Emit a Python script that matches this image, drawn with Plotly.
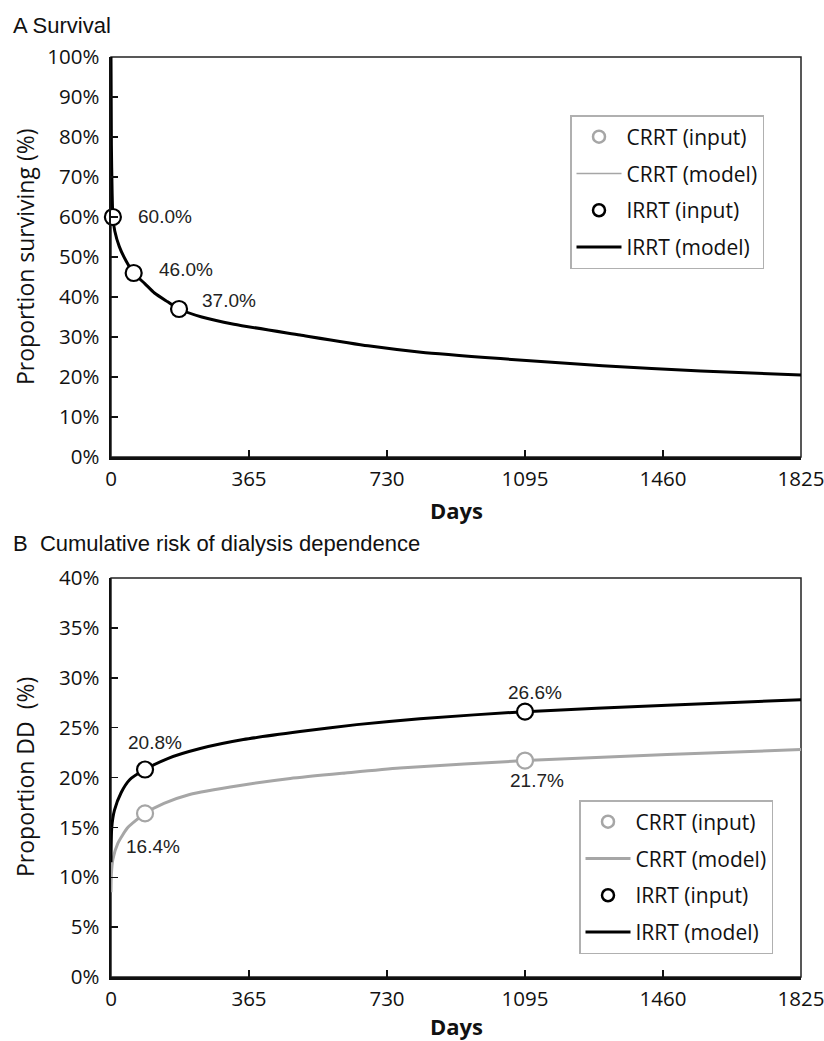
import plotly.graph_objects as go

# ---------------- data ----------------
x_ticks = [0, 365, 730, 1095, 1460, 1825]
surv_y_ticks = [0, 10, 20, 30, 40, 50, 60, 70, 80, 90, 100]
dd_y_ticks = [0, 5, 10, 15, 20, 25, 30, 35, 40]

# Panel A: survival
surv_input_days = [5, 60, 180]
surv_input_pct = [60.0, 46.0, 37.0]
surv_input_labels = ["60.0%", "46.0%", "37.0%"]
surv_model_days = [0, 1, 3, 5, 10, 22, 40, 60, 90, 115, 150, 180, 240, 325, 500, 680, 820, 1030, 1300, 1560, 1825]
surv_model_pct = [100, 78, 66, 60, 56.5, 52.6, 49, 46, 43.3, 41, 38.8, 37, 35, 33.2, 30.5, 27.8, 26.2, 24.6, 22.8, 21.5, 20.5]

# Panel B: cumulative risk of dialysis dependence
dd_input_days = [90, 1095]
dd_irrt_input_pct = [20.8, 26.6]
dd_crrt_input_pct = [16.4, 21.7]
dd_irrt_labels = ["20.8%", "26.6%"]
dd_crrt_labels = ["16.4%", "21.7%"]
dd_irrt_model_days = [0, 2, 9, 27, 50, 90, 150, 236, 350, 500, 650, 817, 1095, 1471, 1825]
dd_irrt_model_pct = [11.5, 15.0, 16.7, 18.5, 19.8, 20.8, 21.9, 22.9, 23.8, 24.6, 25.3, 25.9, 26.6, 27.25, 27.8]
dd_crrt_model_days = [0, 1, 5, 18, 45, 90, 140, 208, 341, 474, 620, 764, 1095, 1471, 1825]
dd_crrt_model_pct = [8.5, 10.3, 11.8, 13.4, 15.0, 16.4, 17.4, 18.3, 19.2, 19.9, 20.45, 20.95, 21.7, 22.3, 22.8]

# ---------------- styles ----------------
GRAY = "#a6a6a6"
BLACK = "#000000"
W, H = 824, 1041
TICK_FONT = dict(family="Open Sans", size=20.5, color="#111111")
LEG_FONT = dict(family="Open Sans", size=21, color="#111111")
LBL_FONT = dict(family="Liberation Sans", size=19, color="#222222")


def px_x(p):
    return p / W


def px_y(p):
    return 1 - p / H


fig = go.Figure()

# ---- Panel A traces ----
fig.add_trace(go.Scatter(x=surv_input_days, y=surv_input_pct, mode="markers", name="CRRT (input)",
                         marker=dict(symbol="circle-open", size=12, color=GRAY, line=dict(width=2.5)),
                         xaxis="x", yaxis="y", legend="legend", legendgroup="a1", legendrank=1, cliponaxis=False))
fig.add_trace(go.Scatter(x=surv_model_days, y=surv_model_pct, mode="lines", name="CRRT (model)",
                         line=dict(color=GRAY, width=1.5, shape="spline", smoothing=0.6),
                         xaxis="x", yaxis="y", legend="legend", legendgroup="a2", legendrank=2))
fig.add_trace(go.Scatter(x=surv_input_days, y=surv_input_pct, mode="markers", name="IRRT (input)",
                         marker=dict(symbol="circle", size=12, color="white", line=dict(width=2.5, color=BLACK)),
                         xaxis="x", yaxis="y", legend="legend", legendgroup="a3", legendrank=3, cliponaxis=False))
fig.add_trace(go.Scatter(x=surv_model_days, y=surv_model_pct, mode="lines", name="IRRT (model)",
                         line=dict(color=BLACK, width=3, shape="spline", smoothing=0.6),
                         xaxis="x", yaxis="y", legend="legend", legendgroup="a4", legendrank=4))
fig.add_trace(go.Scatter(x=surv_input_days, y=surv_input_pct, mode="markers", name="IRRT (input)",
                         marker=dict(symbol="circle", size=16, color="white", line=dict(width=2.2, color=BLACK)),
                         xaxis="x", yaxis="y", legend="legend", legendgroup="a3", showlegend=False,
                         cliponaxis=False))

# ---- Panel B traces ----
fig.add_trace(go.Scatter(x=dd_input_days, y=dd_crrt_input_pct, mode="markers", name="CRRT (input)",
                         marker=dict(symbol="circle", size=12, color="white", line=dict(width=2.5, color=GRAY)),
                         xaxis="x2", yaxis="y2", legend="legend2", legendgroup="b1", legendrank=1,
                         cliponaxis=False))
fig.add_trace(go.Scatter(x=dd_input_days, y=dd_irrt_input_pct, mode="markers", name="IRRT (input)",
                         marker=dict(symbol="circle", size=12, color="white", line=dict(width=2.5, color=BLACK)),
                         xaxis="x2", yaxis="y2", legend="legend2", legendgroup="b3", legendrank=3,
                         cliponaxis=False))
fig.add_trace(go.Scatter(x=dd_crrt_model_days, y=dd_crrt_model_pct, mode="lines", name="CRRT (model)",
                         line=dict(color=GRAY, width=3, shape="spline", smoothing=0.6),
                         xaxis="x2", yaxis="y2", legend="legend2", legendgroup="b2", legendrank=2))
fig.add_trace(go.Scatter(x=dd_input_days, y=dd_crrt_input_pct, mode="markers", name="CRRT (input)",
                         marker=dict(symbol="circle", size=16, color="white", line=dict(width=2.2, color=GRAY)),
                         xaxis="x2", yaxis="y2", legend="legend2", legendgroup="b1", showlegend=False,
                         cliponaxis=False))
fig.add_trace(go.Scatter(x=dd_irrt_model_days, y=dd_irrt_model_pct, mode="lines", name="IRRT (model)",
                         line=dict(color=BLACK, width=3, shape="spline", smoothing=0.6),
                         xaxis="x2", yaxis="y2", legend="legend2", legendgroup="b4", legendrank=4))
fig.add_trace(go.Scatter(x=dd_input_days, y=dd_irrt_input_pct, mode="markers", name="IRRT (input)",
                         marker=dict(symbol="circle", size=16, color="white", line=dict(width=2.2, color=BLACK)),
                         xaxis="x2", yaxis="y2", legend="legend2", legendgroup="b3", showlegend=False,
                         cliponaxis=False))

# ---------------- annotations ----------------
ann = []
shifts_a = [(23, 0), (23, 3), (21, 8)]
for d, v, t, (xs, ys) in zip(surv_input_days, surv_input_pct, surv_input_labels, shifts_a):
    ann.append(dict(x=d, y=v, xref="x", yref="y", text=t, showarrow=False, xanchor="left", yanchor="middle",
                    xshift=xs, yshift=ys, font=LBL_FONT))
for d, v, t, (xs, ys) in zip(dd_input_days, dd_irrt_input_pct, dd_irrt_labels, [(10, 27), (10, 19)]):
    ann.append(dict(x=d, y=v, xref="x2", yref="y2", text=t, showarrow=False, xanchor="center", yanchor="middle",
                    xshift=xs, yshift=ys, font=LBL_FONT))
for d, v, t, (xs, ys) in zip(dd_input_days, dd_crrt_input_pct, dd_crrt_labels, [(8, -33), (12, -20)]):
    ann.append(dict(x=d, y=v, xref="x2", yref="y2", text=t, showarrow=False, xanchor="center", yanchor="middle",
                    xshift=xs, yshift=ys, font=LBL_FONT))

TITLE_FONT = dict(family="Liberation Sans", size=22, color="#111")
ann.append(dict(x=px_x(11), y=px_y(25), xref="paper", yref="paper", text="A Survival", showarrow=False,
                xanchor="left", yanchor="middle", font=TITLE_FONT))
ann.append(dict(x=px_x(11), y=px_y(543), xref="paper", yref="paper",
                text="B\u00a0 Cumulative risk of dialysis dependence", showarrow=False,
                xanchor="left", yanchor="middle", font=TITLE_FONT))
AX_TITLE_FONT = dict(family="Open Sans", size=23, color="#111")
ann.append(dict(x=px_x(25), y=px_y(257), xref="paper", yref="paper", text="Proportion surviving (%)",
                showarrow=False, textangle=-90, xanchor="center", yanchor="middle", font=AX_TITLE_FONT))
ann.append(dict(x=px_x(25), y=px_y(777), xref="paper", yref="paper", text="Proportion DD\u00a0 (%)",
                showarrow=False, textangle=-90, xanchor="center", yanchor="middle", font=AX_TITLE_FONT))
for yy in (510, 1026):
    ann.append(dict(x=px_x(456), y=px_y(yy), xref="paper", yref="paper", text="<b>Days</b>", showarrow=False,
                    xanchor="center", yanchor="middle", font=dict(family="Open Sans", size=22, color="#111")))

# ---------------- axes ----------------
xdom = [px_x(111), px_x(801)]
common_x = dict(range=[0, 1825], tickmode="array", tickvals=x_ticks, ticktext=[str(v) for v in x_ticks],
                ticks="inside", ticklen=7, tickwidth=1.5, tickcolor="#111", showline=True, linewidth=2.5,
                linecolor="#111", showgrid=False, zeroline=False, tickfont=TICK_FONT, domain=xdom,
                ticklabelstandoff=2, ticklabeloverflow="allow", automargin=False, fixedrange=True)
common_y = dict(ticks="inside", ticklen=7, tickwidth=1.5, tickcolor="#111", showline=True, linewidth=2.5,
                linecolor="#111", showgrid=False, zeroline=False, tickfont=TICK_FONT, tickmode="array",
                ticklabelstandoff=5, ticklabeloverflow="allow", automargin=False, fixedrange=True)

LEG_COMMON = dict(xanchor="left", yanchor="top", bgcolor="white", bordercolor="#b0b0b0", borderwidth=1.5,
                  font=LEG_FONT, tracegroupgap=6.5, itemwidth=45, traceorder="grouped")

fig.update_layout(
    template="none",
    width=W, height=H,
    margin=dict(l=0, r=0, t=0, b=0, pad=0),
    paper_bgcolor="white", plot_bgcolor="white",
    xaxis=dict(common_x, anchor="y"),
    yaxis=dict(common_y, range=[0, 100], tickvals=surv_y_ticks, ticktext=[f"{v}%" for v in surv_y_ticks],
               domain=[px_y(457), px_y(57)], anchor="x"),
    xaxis2=dict(common_x, anchor="y2"),
    yaxis2=dict(common_y, range=[0, 40], tickvals=dd_y_ticks, ticktext=[f"{v}%" for v in dd_y_ticks],
                domain=[px_y(977), px_y(578)], anchor="x2"),
    legend=dict(LEG_COMMON, x=px_x(570), y=px_y(115)),
    legend2=dict(LEG_COMMON, x=px_x(579), y=px_y(800)),
    annotations=ann,
    shapes=[
        dict(type="rect", xref="x domain", yref="y domain", x0=0, x1=1, y0=0, y1=1,
             line=dict(color="#222", width=1.5), layer="below"),
        dict(type="rect", xref="x2 domain", yref="y2 domain", x0=0, x1=1, y0=0, y1=1,
             line=dict(color="#222", width=1.5), layer="below"),
    ],
    showlegend=True,
    hovermode=False,
)

# remove the browser's default page margin so the 824x1041 figure fills the window exactly
fig.write_html("out.html", config={"displayModeBar": False, "staticPlot": True},
               post_script="document.body.style.margin='0';document.body.style.overflow='hidden';")
